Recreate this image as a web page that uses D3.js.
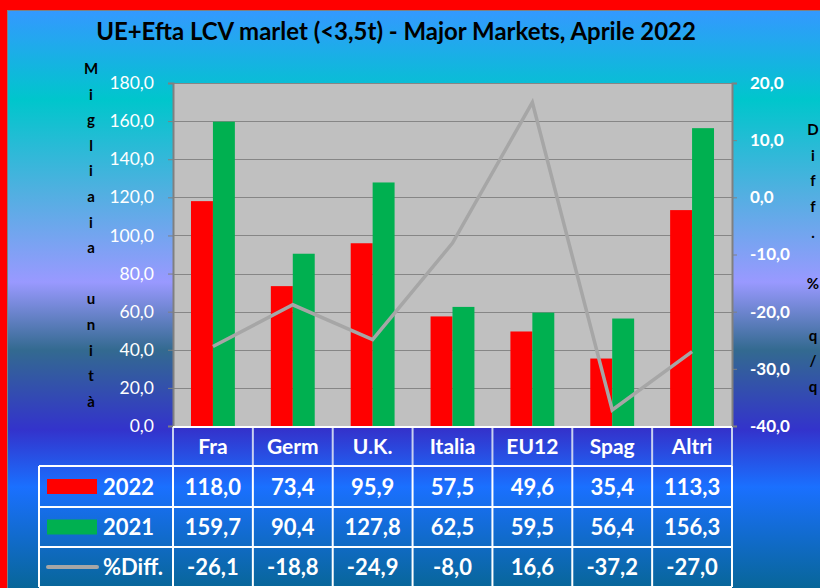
<!DOCTYPE html>
<html>
<head>
<meta charset="utf-8">
<script src="https://cdn.jsdelivr.net/npm/d3@7"></script>
<style>
html,body{margin:0;padding:0;background:#fff;}
svg{display:block;font-family:Lato,"Open Sans",sans-serif;}
</style>
</head>
<body>
<svg id="chart" width="820" height="588"></svg>
<script>
const categories = ["Fra","Germ","U.K.","Italia","EU12","Spag","Altri"];
const values2022 = [118.0,73.4,95.9,57.5,49.6,35.4,113.3];
const values2021 = [159.7,90.4,127.8,62.5,59.5,56.4,156.3];
const diffPct = [-26.1,-18.8,-24.9,-8.0,16.6,-37.2,-27.0];
const seriesNames = ["2022","2021"];
const diffName = "%Diff.";
const leftTicks = [0,20,40,60,80,100,120,140,160,180];
const rightTicks = [-40,-30,-20,-10,0,10,20];
const titleText = "UE+Efta LCV marlet (<3,5t) - Major Markets, Aprile 2022";
const leftTitle = "Migliaia unità";
const rightTitle = "Diff. % q/q";

const colors = {"2022":"#ff0000","2021":"#00b050", diff:"#a6a6a6"};
const fmt = v => d3.format(".1f")(v).replace(".", ",").replace("\u2212", "-");

const svg = d3.select("#chart");
const W = 820, H = 588;
const plot = {l:173, r:732, t:83, b:426};

// background
const defs = svg.append("defs");
const grad = defs.append("linearGradient").attr("id","bg")
  .attr("gradientUnits","userSpaceOnUse").attr("x1",0).attr("y1",11).attr("x2",0).attr("y2",588);
[[11,"#3399ff"],[100,"#00c6cc"],[190,"#4fb0e0"],[282,"#9999ff"],[350,"#336a90"],[430,"#3333cc"],[487,"#1a70ff"],[588,"#086699"]]
  .forEach(([y,c]) => grad.append("stop").attr("offset",(y-11)/(588-11)).attr("stop-color",c));

svg.append("rect").attr("width",W).attr("height",H).attr("fill","#ff0000");
svg.append("rect").attr("x",7.5).attr("y",10.5).attr("width",W).attr("height",H)
  .attr("fill","url(#bg)").attr("stroke","#808080").attr("stroke-width",1);

// scales
const x = d3.scaleBand().domain(categories).range([plot.l, plot.r]).padding(0);
const bw = x.bandwidth();
const x1 = d3.scaleBand().domain(seriesNames).range([0,bw]).paddingInner(0).paddingOuter(0.82);
const yL = d3.scaleLinear().domain([0,180]).range([plot.b, plot.t]);
const yR = d3.scaleLinear().domain([-40,20]).range([plot.b, plot.t]);

// plot area
svg.append("rect").attr("x",plot.l).attr("y",plot.t).attr("width",plot.r-plot.l).attr("height",plot.b-plot.t)
  .attr("fill","#c0c0c0");
svg.append("g").selectAll("line").data(leftTicks.filter(t=>t>0)).join("line")
  .attr("x1",plot.l).attr("x2",plot.r)
  .attr("y1",d=>Math.round(yL(d))+0.5).attr("y2",d=>Math.round(yL(d))+0.5)
  .attr("stroke","#868686").attr("stroke-width",1.2);

// bars
const data = categories.map((c,i)=>({cat:c, vals:[{s:"2022",v:values2022[i]},{s:"2021",v:values2021[i]}]}));
const groups = svg.append("g").selectAll("g").data(data).join("g")
  .attr("transform",d=>`translate(${x(d.cat)},0)`);
groups.selectAll("rect").data(d=>d.vals).join("rect")
  .attr("x",d=>x1(d.s)).attr("width",x1.bandwidth())
  .attr("y",d=>yL(d.v)).attr("height",d=>yL(0)-yL(d.v))
  .attr("fill",d=>colors[d.s]);

// line
const line = d3.line().x((d,i)=>x(categories[i])+bw/2).y(d=>yR(d));
svg.append("path").attr("d",line(diffPct)).attr("fill","none")
  .attr("stroke",colors.diff).attr("stroke-width",3.5).attr("stroke-linejoin","miter");

// axes
const axL = svg.append("g").attr("transform",`translate(${plot.l},0)`)
  .call(d3.axisLeft(yL).tickValues(leftTicks).tickFormat(fmt).tickSize(5).tickPadding(14));
axL.select(".domain").attr("stroke","#808080").attr("stroke-width",2);
axL.selectAll(".tick line").attr("stroke","#808080");
axL.selectAll(".tick text").attr("fill","#fff").attr("font-size","17.5px").attr("font-family","Lato");

const axR = svg.append("g").attr("transform",`translate(${plot.r},0)`)
  .call(d3.axisRight(yR).tickValues(rightTicks).tickFormat(fmt).tickSize(5).tickPadding(13));
axR.select(".domain").attr("stroke","#808080").attr("stroke-width",2);
axR.selectAll(".tick line").attr("stroke","#808080");
axR.selectAll(".tick text").attr("fill","#fff").attr("font-size","17px").attr("font-weight","bold").attr("font-family","Lato");

// title
const title = svg.append("text").attr("x",396).attr("y",40).attr("text-anchor","middle")
  .attr("font-size","21px").attr("font-weight","bold").attr("fill","#000").text(titleText);
const tw = title.node().getComputedTextLength();
title.attr("font-size", (21*600/tw)+"px");

// vertical axis titles
svg.append("g").selectAll("text").data(Array.from(leftTitle)).join("text")
  .attr("x",91).attr("y",(d,i)=>74+i*25.6).attr("text-anchor","middle")
  .attr("font-size","15px").attr("font-weight","bold").attr("fill","#000").text(d=>d);
svg.append("g").selectAll("text").data(Array.from(rightTitle)).join("text")
  .attr("x",813).attr("y",(d,i)=>135+i*25.7).attr("text-anchor","middle")
  .attr("font-size","15px").attr("font-weight","bold").attr("fill","#000").text(d=>d);

// data table
const rowsY = [427,466,507,547,587];
const tableLeft = 39;
const tbl = svg.append("g");
// header verticals (lighter)
tbl.append("g").selectAll("line").data(categories.concat(["_end"])).join("line")
  .attr("x1",(d,i)=>i<categories.length?x(d):plot.r).attr("x2",(d,i)=>i<categories.length?x(d):plot.r)
  .attr("y1",rowsY[0]).attr("y2",rowsY[1])
  .attr("stroke","#c8d0f0").attr("stroke-width",2);
tbl.append("line").attr("x1",plot.l).attr("x2",plot.r).attr("y1",rowsY[0]).attr("y2",rowsY[0])
  .attr("stroke","#fff").attr("stroke-width",2);
// body horizontals
rowsY.slice(1).forEach(y=>{
  tbl.append("line").attr("x1",tableLeft).attr("x2",plot.r).attr("y1",y).attr("y2",y)
    .attr("stroke","#fff").attr("stroke-width",2);
});
// body verticals
[tableLeft].concat(categories.map(c=>x(c))).concat([plot.r]).forEach(xx=>{
  tbl.append("line").attr("x1",xx).attr("x2",xx).attr("y1",rowsY[1]).attr("y2",rowsY[4])
    .attr("stroke","#fff").attr("stroke-width",2);
});
// header text
tbl.append("g").selectAll("text").data(categories).join("text")
  .attr("x",d=>x(d)+bw/2).attr("y",(rowsY[0]+rowsY[1])/2+7.5).attr("text-anchor","middle")
  .attr("fill","#fff").attr("font-size","21px").attr("font-weight","bold").text(d=>d);
// body rows
const tableRows = [
  {name:seriesNames[0], vals:values2022, key:"rect", color:colors["2022"]},
  {name:seriesNames[1], vals:values2021, key:"rect", color:colors["2021"]},
  {name:diffName, vals:diffPct, key:"line", color:colors.diff}
];
tableRows.forEach((r,ri)=>{
  const cy = (rowsY[ri+1]+rowsY[ri+2])/2;
  if (r.key==="rect") {
    tbl.append("rect").attr("x",47).attr("y",cy-7.5).attr("width",50).attr("height",15).attr("fill",r.color);
  } else {
    tbl.append("line").attr("x1",48).attr("x2",97).attr("y1",cy).attr("y2",cy)
      .attr("stroke",r.color).attr("stroke-width",4).attr("stroke-linecap","round");
  }
  tbl.append("text").attr("x",103).attr("y",cy+8).attr("fill","#fff")
    .attr("font-size","22px").attr("font-weight","bold").text(r.name);
  tbl.append("g").selectAll("text").data(r.vals).join("text")
    .attr("x",(d,i)=>x(categories[i])+bw/2).attr("y",cy+8).attr("text-anchor","middle")
    .attr("fill","#fff").attr("font-size","22px").attr("font-weight","bold").text(d=>fmt(d));
});
</script>
</body>
</html>
